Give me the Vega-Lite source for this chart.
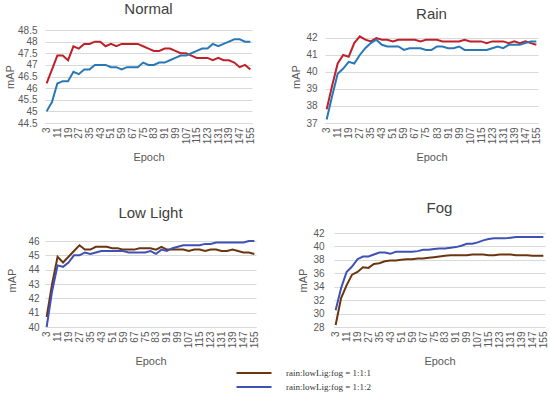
{
"$schema": "https://vega.github.io/schema/vega-lite/v6.json",
"padding": {"left": 4, "top": 2, "right": 4, "bottom": 0},
"background": "white",
"config": {
  "font": "Liberation Sans",
  "view": {"stroke": null},
  "axis": {"labelFont": "Liberation Sans", "labelColor": "#595959", "labelFontSize": 10, "titleFont": "Liberation Sans", "titleColor": "#595959", "titleFontSize": 11, "titleFontWeight": "normal", "ticks": false, "gridColor": "#d9d9d9", "domainColor": "#d9d9d9"},
  "axisX": {"labelAngle": 270, "grid": false, "titlePadding": 8, "labelPadding": 4, "labelFontSize": 10},
  "title": {"font": "Liberation Sans", "fontSize": 15, "fontWeight": "normal", "color": "#404040", "offset": 8},
  "line": {"strokeWidth": 2}
},
"datasets": {
"normal": [
{"e":3,"s":"1:1:1","v":46.2},{"e":7,"s":"1:1:1","v":46.8},{"e":11,"s":"1:1:1","v":47.4},{"e":15,"s":"1:1:1","v":47.4},{"e":19,"s":"1:1:1","v":47.2},{"e":23,"s":"1:1:1","v":47.8},{"e":27,"s":"1:1:1","v":47.7},{"e":31,"s":"1:1:1","v":47.9},{"e":35,"s":"1:1:1","v":47.9},{"e":39,"s":"1:1:1","v":48.0},{"e":43,"s":"1:1:1","v":48.0},{"e":47,"s":"1:1:1","v":47.8},{"e":51,"s":"1:1:1","v":47.9},{"e":55,"s":"1:1:1","v":47.8},{"e":59,"s":"1:1:1","v":47.9},{"e":63,"s":"1:1:1","v":47.9},{"e":67,"s":"1:1:1","v":47.9},{"e":71,"s":"1:1:1","v":47.9},{"e":75,"s":"1:1:1","v":47.8},{"e":79,"s":"1:1:1","v":47.7},{"e":83,"s":"1:1:1","v":47.6},{"e":87,"s":"1:1:1","v":47.6},{"e":91,"s":"1:1:1","v":47.7},{"e":95,"s":"1:1:1","v":47.7},{"e":99,"s":"1:1:1","v":47.6},{"e":103,"s":"1:1:1","v":47.5},{"e":107,"s":"1:1:1","v":47.5},{"e":111,"s":"1:1:1","v":47.4},{"e":115,"s":"1:1:1","v":47.3},{"e":119,"s":"1:1:1","v":47.3},{"e":123,"s":"1:1:1","v":47.3},{"e":127,"s":"1:1:1","v":47.2},{"e":131,"s":"1:1:1","v":47.3},{"e":135,"s":"1:1:1","v":47.2},{"e":139,"s":"1:1:1","v":47.2},{"e":143,"s":"1:1:1","v":47.1},{"e":147,"s":"1:1:1","v":46.9},{"e":151,"s":"1:1:1","v":47.0},{"e":155,"s":"1:1:1","v":46.8},
{"e":3,"s":"1:1:2","v":45.0},{"e":7,"s":"1:1:2","v":45.4},{"e":11,"s":"1:1:2","v":46.2},{"e":15,"s":"1:1:2","v":46.3},{"e":19,"s":"1:1:2","v":46.3},{"e":23,"s":"1:1:2","v":46.7},{"e":27,"s":"1:1:2","v":46.6},{"e":31,"s":"1:1:2","v":46.8},{"e":35,"s":"1:1:2","v":46.8},{"e":39,"s":"1:1:2","v":47.0},{"e":43,"s":"1:1:2","v":47.0},{"e":47,"s":"1:1:2","v":47.0},{"e":51,"s":"1:1:2","v":46.9},{"e":55,"s":"1:1:2","v":46.9},{"e":59,"s":"1:1:2","v":46.8},{"e":63,"s":"1:1:2","v":46.9},{"e":67,"s":"1:1:2","v":46.9},{"e":71,"s":"1:1:2","v":46.9},{"e":75,"s":"1:1:2","v":47.1},{"e":79,"s":"1:1:2","v":47.0},{"e":83,"s":"1:1:2","v":47.0},{"e":87,"s":"1:1:2","v":47.1},{"e":91,"s":"1:1:2","v":47.1},{"e":95,"s":"1:1:2","v":47.2},{"e":99,"s":"1:1:2","v":47.3},{"e":103,"s":"1:1:2","v":47.4},{"e":107,"s":"1:1:2","v":47.4},{"e":111,"s":"1:1:2","v":47.5},{"e":115,"s":"1:1:2","v":47.6},{"e":119,"s":"1:1:2","v":47.7},{"e":123,"s":"1:1:2","v":47.7},{"e":127,"s":"1:1:2","v":47.9},{"e":131,"s":"1:1:2","v":47.8},{"e":135,"s":"1:1:2","v":47.9},{"e":139,"s":"1:1:2","v":48.0},{"e":143,"s":"1:1:2","v":48.1},{"e":147,"s":"1:1:2","v":48.1},{"e":151,"s":"1:1:2","v":48.0},{"e":155,"s":"1:1:2","v":48.0}
],
"rain": [
{"e":3,"s":"1:1:1","v":37.8},{"e":7,"s":"1:1:1","v":39.2},{"e":11,"s":"1:1:1","v":40.5},{"e":15,"s":"1:1:1","v":41.0},{"e":19,"s":"1:1:1","v":40.9},{"e":23,"s":"1:1:1","v":41.7},{"e":27,"s":"1:1:1","v":42.1},{"e":31,"s":"1:1:1","v":41.9},{"e":35,"s":"1:1:1","v":41.8},{"e":39,"s":"1:1:1","v":42.0},{"e":43,"s":"1:1:1","v":41.9},{"e":47,"s":"1:1:1","v":41.9},{"e":51,"s":"1:1:1","v":41.8},{"e":55,"s":"1:1:1","v":41.9},{"e":59,"s":"1:1:1","v":41.9},{"e":63,"s":"1:1:1","v":41.9},{"e":67,"s":"1:1:1","v":41.9},{"e":71,"s":"1:1:1","v":41.8},{"e":75,"s":"1:1:1","v":41.9},{"e":79,"s":"1:1:1","v":41.9},{"e":83,"s":"1:1:1","v":41.9},{"e":87,"s":"1:1:1","v":41.8},{"e":91,"s":"1:1:1","v":41.8},{"e":95,"s":"1:1:1","v":41.8},{"e":99,"s":"1:1:1","v":41.8},{"e":103,"s":"1:1:1","v":41.9},{"e":107,"s":"1:1:1","v":41.8},{"e":111,"s":"1:1:1","v":41.8},{"e":115,"s":"1:1:1","v":41.8},{"e":119,"s":"1:1:1","v":41.7},{"e":123,"s":"1:1:1","v":41.8},{"e":127,"s":"1:1:1","v":41.8},{"e":131,"s":"1:1:1","v":41.8},{"e":135,"s":"1:1:1","v":41.7},{"e":139,"s":"1:1:1","v":41.8},{"e":143,"s":"1:1:1","v":41.7},{"e":147,"s":"1:1:1","v":41.8},{"e":151,"s":"1:1:1","v":41.7},{"e":155,"s":"1:1:1","v":41.6},
{"e":3,"s":"1:1:2","v":37.2},{"e":7,"s":"1:1:2","v":38.6},{"e":11,"s":"1:1:2","v":39.9},{"e":15,"s":"1:1:2","v":40.2},{"e":19,"s":"1:1:2","v":40.6},{"e":23,"s":"1:1:2","v":40.5},{"e":27,"s":"1:1:2","v":41.0},{"e":31,"s":"1:1:2","v":41.4},{"e":35,"s":"1:1:2","v":41.7},{"e":39,"s":"1:1:2","v":41.9},{"e":43,"s":"1:1:2","v":41.6},{"e":47,"s":"1:1:2","v":41.5},{"e":51,"s":"1:1:2","v":41.5},{"e":55,"s":"1:1:2","v":41.5},{"e":59,"s":"1:1:2","v":41.3},{"e":63,"s":"1:1:2","v":41.4},{"e":67,"s":"1:1:2","v":41.4},{"e":71,"s":"1:1:2","v":41.4},{"e":75,"s":"1:1:2","v":41.3},{"e":79,"s":"1:1:2","v":41.3},{"e":83,"s":"1:1:2","v":41.5},{"e":87,"s":"1:1:2","v":41.5},{"e":91,"s":"1:1:2","v":41.4},{"e":95,"s":"1:1:2","v":41.4},{"e":99,"s":"1:1:2","v":41.5},{"e":103,"s":"1:1:2","v":41.3},{"e":107,"s":"1:1:2","v":41.3},{"e":111,"s":"1:1:2","v":41.3},{"e":115,"s":"1:1:2","v":41.3},{"e":119,"s":"1:1:2","v":41.3},{"e":123,"s":"1:1:2","v":41.4},{"e":127,"s":"1:1:2","v":41.5},{"e":131,"s":"1:1:2","v":41.4},{"e":135,"s":"1:1:2","v":41.6},{"e":139,"s":"1:1:2","v":41.6},{"e":143,"s":"1:1:2","v":41.6},{"e":147,"s":"1:1:2","v":41.7},{"e":151,"s":"1:1:2","v":41.8},{"e":155,"s":"1:1:2","v":41.8}
],
"low": [
{"e":3,"s":"1:1:1","v":40.7},{"e":7,"s":"1:1:1","v":43.0},{"e":11,"s":"1:1:1","v":44.9},{"e":15,"s":"1:1:1","v":44.5},{"e":19,"s":"1:1:1","v":44.9},{"e":23,"s":"1:1:1","v":45.3},{"e":27,"s":"1:1:1","v":45.7},{"e":31,"s":"1:1:1","v":45.4},{"e":35,"s":"1:1:1","v":45.4},{"e":39,"s":"1:1:1","v":45.6},{"e":43,"s":"1:1:1","v":45.6},{"e":47,"s":"1:1:1","v":45.6},{"e":51,"s":"1:1:1","v":45.5},{"e":55,"s":"1:1:1","v":45.5},{"e":59,"s":"1:1:1","v":45.4},{"e":63,"s":"1:1:1","v":45.4},{"e":67,"s":"1:1:1","v":45.4},{"e":71,"s":"1:1:1","v":45.5},{"e":75,"s":"1:1:1","v":45.5},{"e":79,"s":"1:1:1","v":45.5},{"e":83,"s":"1:1:1","v":45.4},{"e":87,"s":"1:1:1","v":45.6},{"e":91,"s":"1:1:1","v":45.4},{"e":95,"s":"1:1:1","v":45.4},{"e":99,"s":"1:1:1","v":45.4},{"e":103,"s":"1:1:1","v":45.4},{"e":107,"s":"1:1:1","v":45.3},{"e":111,"s":"1:1:1","v":45.4},{"e":115,"s":"1:1:1","v":45.4},{"e":119,"s":"1:1:1","v":45.3},{"e":123,"s":"1:1:1","v":45.4},{"e":127,"s":"1:1:1","v":45.4},{"e":131,"s":"1:1:1","v":45.3},{"e":135,"s":"1:1:1","v":45.3},{"e":139,"s":"1:1:1","v":45.4},{"e":143,"s":"1:1:1","v":45.3},{"e":147,"s":"1:1:1","v":45.2},{"e":151,"s":"1:1:1","v":45.2},{"e":155,"s":"1:1:1","v":45.1},
{"e":3,"s":"1:1:2","v":40.0},{"e":7,"s":"1:1:2","v":42.5},{"e":11,"s":"1:1:2","v":44.3},{"e":15,"s":"1:1:2","v":44.2},{"e":19,"s":"1:1:2","v":44.5},{"e":23,"s":"1:1:2","v":45.0},{"e":27,"s":"1:1:2","v":45.0},{"e":31,"s":"1:1:2","v":45.2},{"e":35,"s":"1:1:2","v":45.1},{"e":39,"s":"1:1:2","v":45.2},{"e":43,"s":"1:1:2","v":45.3},{"e":47,"s":"1:1:2","v":45.3},{"e":51,"s":"1:1:2","v":45.3},{"e":55,"s":"1:1:2","v":45.3},{"e":59,"s":"1:1:2","v":45.3},{"e":63,"s":"1:1:2","v":45.2},{"e":67,"s":"1:1:2","v":45.2},{"e":71,"s":"1:1:2","v":45.2},{"e":75,"s":"1:1:2","v":45.2},{"e":79,"s":"1:1:2","v":45.3},{"e":83,"s":"1:1:2","v":45.1},{"e":87,"s":"1:1:2","v":45.4},{"e":91,"s":"1:1:2","v":45.3},{"e":95,"s":"1:1:2","v":45.5},{"e":99,"s":"1:1:2","v":45.6},{"e":103,"s":"1:1:2","v":45.7},{"e":107,"s":"1:1:2","v":45.7},{"e":111,"s":"1:1:2","v":45.7},{"e":115,"s":"1:1:2","v":45.7},{"e":119,"s":"1:1:2","v":45.8},{"e":123,"s":"1:1:2","v":45.8},{"e":127,"s":"1:1:2","v":45.9},{"e":131,"s":"1:1:2","v":45.9},{"e":135,"s":"1:1:2","v":45.9},{"e":139,"s":"1:1:2","v":45.9},{"e":143,"s":"1:1:2","v":45.9},{"e":147,"s":"1:1:2","v":45.9},{"e":151,"s":"1:1:2","v":46.0},{"e":155,"s":"1:1:2","v":46.0}
],
"fog": [
{"e":3,"s":"1:1:1","v":28.3},{"e":7,"s":"1:1:1","v":32.3},{"e":11,"s":"1:1:1","v":34.2},{"e":15,"s":"1:1:1","v":35.8},{"e":19,"s":"1:1:1","v":36.2},{"e":23,"s":"1:1:1","v":36.9},{"e":27,"s":"1:1:1","v":36.8},{"e":31,"s":"1:1:1","v":37.4},{"e":35,"s":"1:1:1","v":37.5},{"e":39,"s":"1:1:1","v":37.8},{"e":43,"s":"1:1:1","v":37.9},{"e":47,"s":"1:1:1","v":37.9},{"e":51,"s":"1:1:1","v":38.0},{"e":55,"s":"1:1:1","v":38.1},{"e":59,"s":"1:1:1","v":38.1},{"e":63,"s":"1:1:1","v":38.2},{"e":67,"s":"1:1:1","v":38.2},{"e":71,"s":"1:1:1","v":38.3},{"e":75,"s":"1:1:1","v":38.4},{"e":79,"s":"1:1:1","v":38.5},{"e":83,"s":"1:1:1","v":38.6},{"e":87,"s":"1:1:1","v":38.7},{"e":91,"s":"1:1:1","v":38.7},{"e":95,"s":"1:1:1","v":38.7},{"e":99,"s":"1:1:1","v":38.7},{"e":103,"s":"1:1:1","v":38.8},{"e":107,"s":"1:1:1","v":38.8},{"e":111,"s":"1:1:1","v":38.8},{"e":115,"s":"1:1:1","v":38.7},{"e":119,"s":"1:1:1","v":38.7},{"e":123,"s":"1:1:1","v":38.8},{"e":127,"s":"1:1:1","v":38.8},{"e":131,"s":"1:1:1","v":38.8},{"e":135,"s":"1:1:1","v":38.7},{"e":139,"s":"1:1:1","v":38.7},{"e":143,"s":"1:1:1","v":38.7},{"e":147,"s":"1:1:1","v":38.6},{"e":151,"s":"1:1:1","v":38.6},{"e":155,"s":"1:1:1","v":38.6},
{"e":3,"s":"1:1:2","v":30.5},{"e":7,"s":"1:1:2","v":33.8},{"e":11,"s":"1:1:2","v":36.2},{"e":15,"s":"1:1:2","v":37.0},{"e":19,"s":"1:1:2","v":38.1},{"e":23,"s":"1:1:2","v":38.5},{"e":27,"s":"1:1:2","v":38.5},{"e":31,"s":"1:1:2","v":38.8},{"e":35,"s":"1:1:2","v":39.1},{"e":39,"s":"1:1:2","v":39.1},{"e":43,"s":"1:1:2","v":38.9},{"e":47,"s":"1:1:2","v":39.2},{"e":51,"s":"1:1:2","v":39.2},{"e":55,"s":"1:1:2","v":39.2},{"e":59,"s":"1:1:2","v":39.2},{"e":63,"s":"1:1:2","v":39.3},{"e":67,"s":"1:1:2","v":39.5},{"e":71,"s":"1:1:2","v":39.5},{"e":75,"s":"1:1:2","v":39.6},{"e":79,"s":"1:1:2","v":39.7},{"e":83,"s":"1:1:2","v":39.7},{"e":87,"s":"1:1:2","v":39.8},{"e":91,"s":"1:1:2","v":39.9},{"e":95,"s":"1:1:2","v":40.1},{"e":99,"s":"1:1:2","v":40.4},{"e":103,"s":"1:1:2","v":40.4},{"e":107,"s":"1:1:2","v":40.6},{"e":111,"s":"1:1:2","v":40.9},{"e":115,"s":"1:1:2","v":41.1},{"e":119,"s":"1:1:2","v":41.2},{"e":123,"s":"1:1:2","v":41.2},{"e":127,"s":"1:1:2","v":41.2},{"e":131,"s":"1:1:2","v":41.3},{"e":135,"s":"1:1:2","v":41.4},{"e":139,"s":"1:1:2","v":41.4},{"e":143,"s":"1:1:2","v":41.4},{"e":147,"s":"1:1:2","v":41.4},{"e":151,"s":"1:1:2","v":41.4},{"e":155,"s":"1:1:2","v":41.4}
]
},
"vconcat": [
 {"hconcat": [
  {"title": "Normal", "width": 207, "height": 93,
   "data": {"name": "normal"}, "mark": "line",
   "encoding": {
    "x": {"field": "e", "type": "ordinal", "sort": null, "scale": {"type": "point", "padding": 0.3}, "axis": {"title": "Epoch", "values": [3,11,19,27,35,43,51,59,67,75,83,91,99,107,115,123,131,139,147,155]}},
    "y": {"field": "v", "type": "quantitative", "scale": {"domain": [44.5, 48.5], "nice": false, "zero": false}, "axis": {"title": "mAP", "format": ".1~f", "values": [44.5,45,45.5,46,46.5,47,47.5,48,48.5], "domain": false, "labelPadding": 8, "titlePadding": 2}},
    "color": {"field": "s", "type": "nominal", "scale": {"domain": ["1:1:1","1:1:2"], "range": ["#c0202a", "#2878b8"]}, "legend": null}
   }},
  {"title": "Rain", "width": 213, "height": 93,
   "data": {"name": "rain"}, "mark": "line",
   "encoding": {
    "x": {"field": "e", "type": "ordinal", "sort": null, "scale": {"type": "point", "padding": 0.3}, "axis": {"title": "Epoch", "values": [3,11,19,27,35,43,51,59,67,75,83,91,99,107,115,123,131,139,147,155]}},
    "y": {"field": "v", "type": "quantitative", "scale": {"domain": [37, 42.47], "nice": false, "zero": false}, "axis": {"title": "mAP", "values": [37,38,39,40,41,42], "domain": false, "labelPadding": 8, "titlePadding": 4}},
    "color": {"field": "s", "type": "nominal", "scale": {"domain": ["1:1:1","1:1:2"], "range": ["#c0202a", "#2878b8"]}, "legend": null}
   }}
 ], "spacing": 34, "resolve": {"scale": {"x": "independent", "y": "independent"}}},
 {"hconcat": [
  {"title": {"text": "Low Light", "offset": 12}, "width": 211, "height": 94,
   "data": {"name": "low"}, "mark": "line",
   "encoding": {
    "x": {"field": "e", "type": "ordinal", "sort": null, "scale": {"type": "point", "padding": 0.3}, "axis": {"title": "Epoch", "values": [3,11,19,27,35,43,51,59,67,75,83,91,99,107,115,123,131,139,147,155]}},
    "y": {"field": "v", "type": "quantitative", "scale": {"domain": [40, 46.56], "nice": false, "zero": false}, "axis": {"title": "mAP", "values": [40,41,42,43,44,45,46], "domain": false, "labelPadding": 6, "titlePadding": 10}},
    "color": {"field": "s", "type": "nominal", "scale": {"domain": ["1:1:1","1:1:2"], "range": ["#6b3510", "#3f51b5"]},
     "legend": {"title": null, "orient": "none", "legendX": 203, "legendY": 134, "symbolType": "M-3.5,0H3.5", "symbolSize": 100, "symbolStrokeWidth": 2, "labelFont": "Liberation Serif", "labelFontSize": 9, "labelColor": "#333333", "labelOffset": 26, "rowPadding": 3, "labelExpr": "'rain:lowLig:fog = ' + datum.label"}}
   }},
  {"title": {"text": "Fog", "offset": 12}, "width": 211, "height": 94,
   "data": {"name": "fog"}, "mark": "line",
   "encoding": {
    "x": {"field": "e", "type": "ordinal", "sort": null, "scale": {"type": "point", "padding": 0.3}, "axis": {"title": "Epoch", "values": [3,11,19,27,35,43,51,59,67,75,83,91,99,107,115,123,131,139,147,155]}},
    "y": {"field": "v", "type": "quantitative", "scale": {"domain": [28, 42], "nice": false, "zero": false}, "axis": {"title": "mAP", "values": [28,30,32,34,36,38,40,42], "domain": false, "labelPadding": 10, "titlePadding": 4}},
    "color": {"field": "s", "type": "nominal", "scale": {"domain": ["1:1:1","1:1:2"], "range": ["#6b3510", "#3f51b5"]}, "legend": null}
   }}
 ], "spacing": 37, "resolve": {"scale": {"x": "independent", "y": "independent"}}}
],
"spacing": 38,
"resolve": {"scale": {"color": "independent"}}
}
